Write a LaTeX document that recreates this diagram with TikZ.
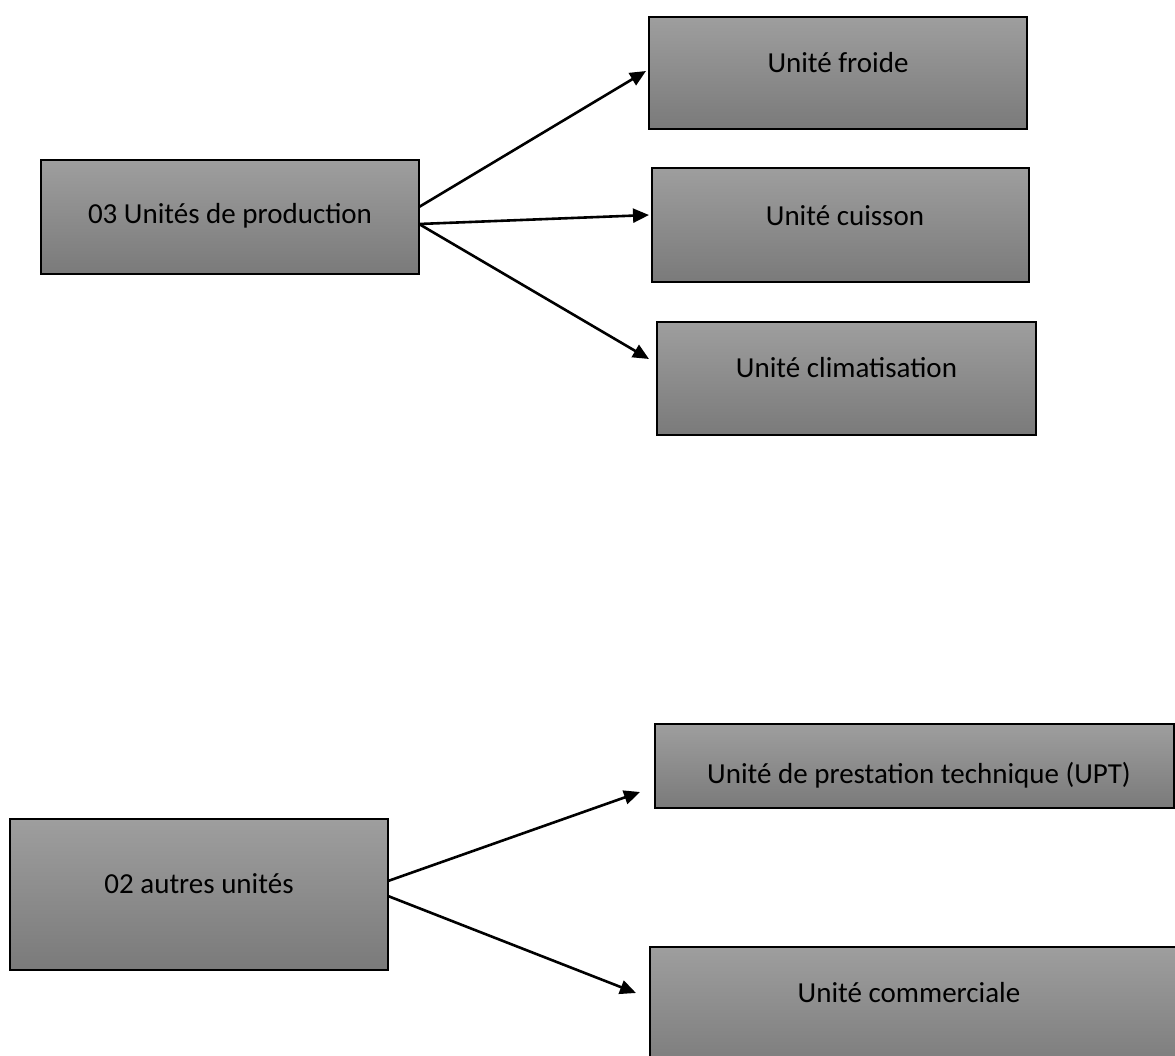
\documentclass[tikz,border=0pt]{standalone}
\usepackage{fontspec}
\setmainfont{Carlito}
\usetikzlibrary{arrows.meta,calc}
\definecolor{boxtop}{RGB}{158,158,158}
\definecolor{boxbottom}{RGB}{122,122,122}
\tikzset{
  unitbox/.style={draw=black, line width=1.6pt, top color=boxtop, bottom color=boxbottom,
    inner sep=0pt, outer sep=0pt},
  boxtext/.style={anchor=base, inner sep=0pt, font=\fontsize{29pt}{34pt}\selectfont},
  link/.style={line width=2.6pt, -{Triangle[length=16pt,width=14pt]}}
}
% draw a shaded box from its corner coordinates (x1,y1) to (x2,y2), y pointing down
\newcommand{\unitboxat}[5]{%
  \node[unitbox, minimum width={(#4-#2)*1pt}, minimum height={(#5-#3)*1pt}, anchor=north west]
    (#1) at (#2,#3) {};}
\begin{document}
\begin{tikzpicture}[x=1pt, y=-1pt]
  \clip (0,0) rectangle (1175,1055);
  \path[use as bounding box] (0,0) rectangle (1175,1055);

  % production units
  \unitboxat{prod}{41}{160}{419}{274}
  \unitboxat{froide}{649}{17}{1027}{129}
  \unitboxat{cuisson}{652}{168}{1029}{282}
  \unitboxat{clim}{657}{322}{1036}{435}
  % other units
  \unitboxat{autres}{10}{819}{388}{970}
  \unitboxat{upt}{655}{724}{1174}{808}
  \unitboxat{comm}{650}{947}{1195}{1075}

  \node[boxtext] (tprod) at (prod.center |- 0,223) {03 Unités de production};
  \node[boxtext] (tfroide) at (froide.center |- 0,72) {Unité froide};
  \node[boxtext] (tcuisson) at (845,225) {Unité cuisson};
  \node[boxtext] (tclim) at (clim.center |- 0,377) {Unité climatisation};
  \node[boxtext] (tautres) at (autres.center |- 0,893) {02 autres unités};
  \node[boxtext] (tupt) at (919,783) {Unité de prestation technique (UPT)};
  \node[boxtext] (tcomm) at (909,1002) {Unité commerciale};

  % arrow tips stop just short of the target boxes
  \coordinate (pa) at ($(prod.north east)+(0,47)$);
  \coordinate (pb) at ($(prod.north east)+(0,64)$);
  \coordinate (ta) at ($(froide.west)+(-3,-2)$);
  \coordinate (tb) at ($(cuisson.west)+(-3,-10)$);
  \coordinate (tc) at ($(clim.north west)+(-8,37)$);
  \coordinate (aa) at ($(autres.north east)+(0,62)$);
  \coordinate (ab) at ($(autres.north east)+(0,77)$);
  \coordinate (tu) at ($(upt.north west)+(-15,68)$);
  \coordinate (tm) at ($(comm.north west)+(-14,46)$);

  \draw[link] (pa) -- (ta);
  \draw[link] (pb) -- (tb);
  \draw[link] (pb) -- (tc);
  \draw[link] (aa) -- (tu);
  \draw[link] (ab) -- (tm);
\end{tikzpicture}
\end{document}
